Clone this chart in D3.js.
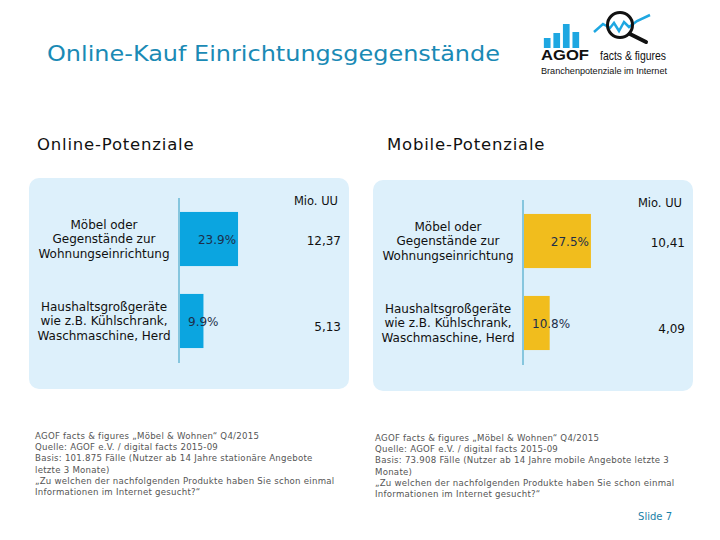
<!DOCTYPE html>
<html><head><meta charset="utf-8">
<script src="https://cdn.jsdelivr.net/npm/d3@7"></script>
<style>body{margin:0;background:#fff}svg{display:block}</style>
</head><body>
<svg id="c" width="720" height="540"></svg>
<script>
const categories = [
  ["Möbel oder", "Gegenstände zur", "Wohnungseinrichtung"],
  ["Haushaltsgroßgeräte", "wie z.B. Kühlschrank,", "Waschmaschine, Herd"]
];
const onlinePct = [23.9, 9.9];
const onlineMio = ["12,37", "5,13"];
const mobilePct = [27.5, 10.8];
const mobileMio = ["10,41", "4,09"];
const unitLabel = "Mio. UU";
const onlineNotes = [
  "AGOF facts & figures „Möbel & Wohnen“ Q4/2015",
  "Quelle: AGOF e.V. / digital facts 2015-09",
  "Basis: 101.875 Fälle (Nutzer ab 14 Jahre stationäre Angebote",
  "letzte 3 Monate)",
  "„Zu welchen der nachfolgenden Produkte haben Sie schon einmal",
  "Informationen im Internet gesucht?“"
];
const mobileNotes = [
  "AGOF facts & figures „Möbel & Wohnen“ Q4/2015",
  "Quelle: AGOF e.V. / digital facts 2015-09",
  "Basis: 73.908 Fälle (Nutzer ab 14 Jahre mobile Angebote letzte 3",
  "Monate)",
  "„Zu welchen der nachfolgenden Produkte haben Sie schon einmal",
  "Informationen im Internet gesucht?“"
];
const logoBars = [10, 15, 24, 16];

const svg = d3.select("#c");
const FONT = "DejaVu Sans, Verdana, sans-serif";
const SANS = "Liberation Sans, Arial, sans-serif";

svg.append("text").attr("x", 47).attr("y", 61)
  .attr("font-family", FONT).attr("font-size", 21).attr("fill", "#1a8ab5")
  .attr("textLength", 453).attr("lengthAdjust", "spacingAndGlyphs")
  .text("Online-Kauf Einrichtungsgegenstände");

// logo
const lg = svg.append("g");
const lx = d3.scaleBand().domain(d3.range(logoBars.length)).range([541, 582]).padding(0.3);
const ly = d3.scaleLinear().domain([0, 24]).range([48, 24]);
lg.selectAll("rect").data(logoBars).join("rect")
  .attr("x", (d, i) => lx(i)).attr("width", lx.bandwidth())
  .attr("y", d => ly(d)).attr("height", d => 48 - ly(d)).attr("fill", "#1ea7e1");
lg.append("path").attr("d", "M594,32 L603,24 L610,28 L614,23 L619,31 L624,22 L629,27 L637,21 L650,15")
  .attr("fill", "none").attr("stroke", "#1ea7e1").attr("stroke-width", 2.5);
lg.append("circle").attr("cx", 620).attr("cy", 25).attr("r", 12.5)
  .attr("fill", "none").attr("stroke", "#111").attr("stroke-width", 3);
lg.append("line").attr("x1", 630).attr("y1", 34).attr("x2", 646).attr("y2", 42)
  .attr("stroke", "#111").attr("stroke-width", 4).attr("stroke-linecap", "round");
lg.append("text").attr("x", 541).attr("y", 60).attr("font-family", SANS)
  .attr("font-weight", "bold").attr("font-size", 15).attr("fill", "#111")
  .attr("textLength", 48).attr("lengthAdjust", "spacingAndGlyphs").text("AGOF");
lg.append("text").attr("x", 600).attr("y", 60).attr("font-family", SANS)
  .attr("font-size", 13).attr("fill", "#111")
  .attr("textLength", 66).attr("lengthAdjust", "spacingAndGlyphs").text("facts & figures");
lg.append("text").attr("x", 541).attr("y", 74).attr("font-family", SANS)
  .attr("font-size", 8.5).attr("fill", "#111").attr("textLength", 126).attr("lengthAdjust", "spacingAndGlyphs")
  .text("Branchenpotenziale im Internet");

function panel(ox, dy, titleX, noteX, title, pct, mio, color, notes) {
  const g = svg.append("g").attr("transform", `translate(${ox},${dy})`);
  g.append("text").attr("x", titleX).attr("y", 150 - dy).attr("font-family", FONT).attr("font-size", 16.5)
    .attr("letter-spacing", 0.8).attr("fill", "#111").text(title);
  g.append("rect").attr("x", 0).attr("y", 178).attr("width", 320).attr("height", 211)
    .attr("rx", 10).attr("fill", "#ddf0fb");
  const axisX = 150;
  const x = d3.scaleLinear().domain([0, 100]).range([axisX, axisX + 247]);
  const y = d3.scaleBand().domain(d3.range(pct.length)).range([199, 361]).paddingInner(0.34).paddingOuter(0.158);
  g.selectAll("rect.bar").data(pct).join("rect").attr("class", "bar")
    .attr("x", x(0)).attr("y", (d, i) => y(i)).attr("width", d => x(d) - x(0))
    .attr("height", y.bandwidth()).attr("fill", color);
  g.append("line").attr("x1", axisX).attr("x2", axisX).attr("y1", 198).attr("y2", 363)
    .attr("stroke", "#86c6de").attr("stroke-width", 2);
  g.selectAll("text.pct").data(pct).join("text").attr("class", "pct")
    .attr("x", d => (x(d) - x(0) > 45) ? x(d) - 2 : x(0) + 9)
    .attr("text-anchor", d => (x(d) - x(0) > 45) ? "end" : "start")
    .attr("y", (d, i) => y(i) + y.bandwidth() / 2 + 5)
    .attr("font-family", FONT).attr("font-size", 12).attr("fill", "#1d2f4a")
    .text(d => d.toFixed(1) + "%");
  g.selectAll("text.mio").data(mio).join("text").attr("class", "mio")
    .attr("x", 312).attr("text-anchor", "end")
    .attr("y", (d, i) => y(i) + y.bandwidth() / 2 + 6 + (i === 1 ? 4 : 0))
    .attr("font-family", FONT).attr("font-size", 12).attr("fill", "#111").text(d => d);
  g.append("text").attr("x", 309).attr("y", 205).attr("text-anchor", "end")
    .attr("font-family", FONT).attr("font-size", 11.5).attr("fill", "#111").text(unitLabel);
  categories.forEach((lines, i) => {
    const t = g.append("text").attr("text-anchor", "middle")
      .attr("font-family", FONT).attr("font-size", 12).attr("fill", "#111");
    lines.forEach((ln, j) => {
      t.append("tspan").attr("x", 75).attr("y", y(i) + 17 + j * 14.5).text(ln);
    });
  });
  const nt = g.append("text").attr("font-family", FONT).attr("font-size", 8.6)
    .attr("letter-spacing", 0.25).attr("fill", "#555");
  notes.forEach((ln, j) => nt.append("tspan").attr("x", noteX).attr("y", 439 + j * 11.2).text(ln));
}
panel(29, 0, 8, 6, "Online-Potenziale", onlinePct, onlineMio, "#0ba5e0", onlineNotes);
panel(373, 2, 14, 2, "Mobile-Potenziale", mobilePct, mobileMio, "#f1bd1d", mobileNotes);
svg.append("text").attr("x", 672).attr("y", 520).attr("text-anchor", "end")
  .attr("font-family", FONT).attr("font-size", 10).attr("fill", "#1a7fa8").text("Slide 7");
</script>
</body></html>
